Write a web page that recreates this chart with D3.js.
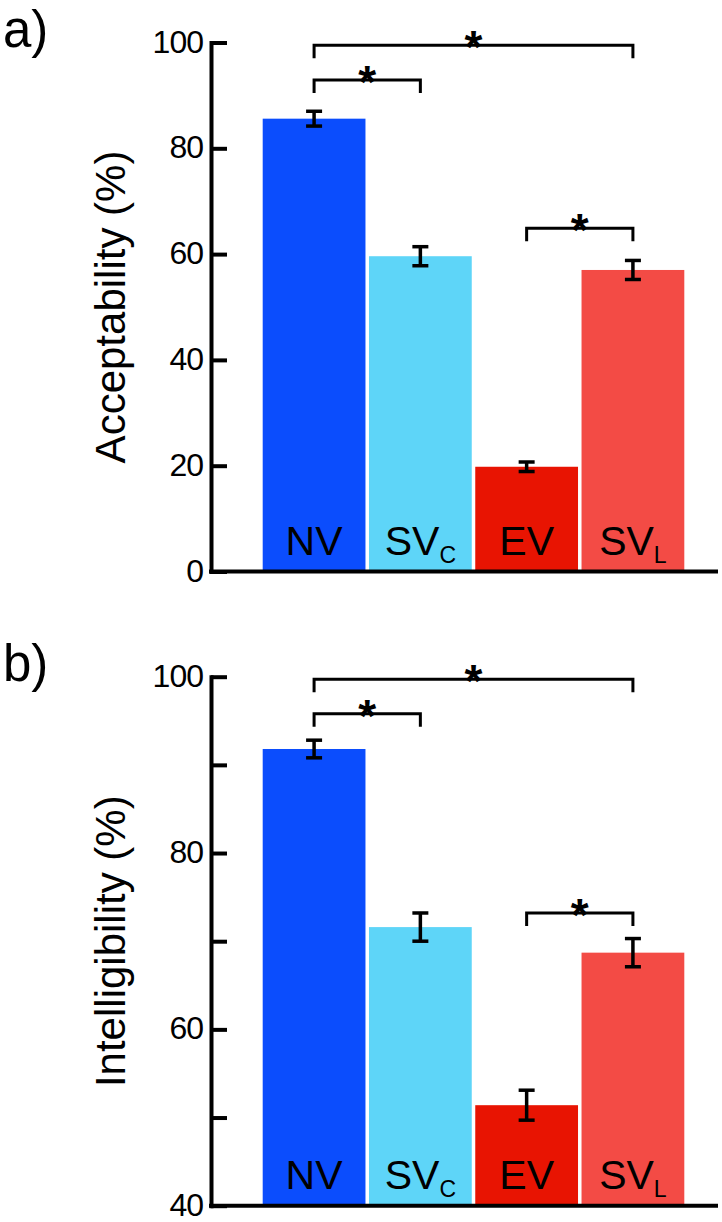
<!DOCTYPE html>
<html>
<head>
<meta charset="utf-8">
<script src="https://cdn.jsdelivr.net/npm/d3@7"></script>
<style>
  body { margin: 0; background: #fff; }
  text { font-family: "Liberation Sans", Arial, Helvetica, sans-serif; fill: #000; }
</style>
</head>
<body>
<div id="chart"></div>
<script>
// categories and labels
const categories = ["NV", "SVC", "EV", "SVL"];
const labelMain = ["NV", "SV", "EV", "SV"];
const labelSub = ["", "C", "", "L"];
const colors = ["#0b4dfd", "#5ed5f8", "#e81402", "#f34b45"];

// panel a) acceptability
const acceptability = [85.6, 59.6, 19.8, 57.0];
const acceptabilityErr = [1.4, 1.8, 0.9, 1.8];
const acceptTicks = [0, 20, 40, 60, 80, 100];
const acceptSig = [[0, 3, 99.5], [0, 1, 92.9], [2, 3, 64.9]];

// panel b) intelligibility
const intelligibility = [91.8, 71.6, 51.4, 68.7];
const intelligibilityErr = [1.0, 1.6, 1.7, 1.6];
const intellTicks = [40, 50, 60, 70, 80, 90, 100];
const intellSig = [[0, 3, 99.7], [0, 1, 95.8], [2, 3, 73.2]];

const W = 722, H = 1222;
const axisX = 211, axisEnd = 718;

const svg = d3.select('#chart')
  .append('svg')
  .attr('width', W)
  .attr('height', H);

// shared x scale
const x = d3.scaleBand()
  .domain(categories)
  .range([262.7, 684.3])
  .paddingInner(0.033)
  .paddingOuter(0);

const drawPanel = (opts) => {
  const {letter, letterY, title, values, errs, y, ticks, labelled, sig} = opts;
  const g = svg.append('g');
  const y0 = y.range()[0];

  // bars
  g.selectAll('rect.bar')
    .data(values)
    .enter().append('rect')
    .attr('class', 'bar')
    .attr('x', (d, i) => x(categories[i]))
    .attr('width', x.bandwidth())
    .attr('y', d => y(d))
    .attr('height', d => y0 - y(d))
    .attr('fill', (d, i) => colors[i]);

  // labels in bars
  const lab = g.selectAll('text.cat')
    .data(categories)
    .enter().append('text')
    .attr('class', 'cat')
    .attr('x', d => x(d) + x.bandwidth() / 2)
    .attr('y', y0 - 17)
    .attr('text-anchor', 'middle')
    .style('font-size', '41px');
  lab.append('tspan').text((d, i) => labelMain[i]);
  lab.append('tspan')
    .attr('dy', 8)
    .style('font-size', '23px')
    .text((d, i) => labelSub[i]);

  // error bars
  const eb = g.selectAll('g.err')
    .data(values)
    .enter().append('g')
    .attr('class', 'err')
    .attr('transform', (d, i) => `translate(${x(categories[i]) + x.bandwidth() / 2},0)`)
    .attr('stroke', '#000')
    .attr('stroke-width', 3.5);
  eb.append('line')
    .attr('y1', (d, i) => y(d + errs[i]))
    .attr('y2', (d, i) => y(d - errs[i]));
  eb.append('line')
    .attr('x1', -8).attr('x2', 8)
    .attr('y1', (d, i) => y(d + errs[i]))
    .attr('y2', (d, i) => y(d + errs[i]));
  eb.append('line')
    .attr('x1', -8).attr('x2', 8)
    .attr('y1', (d, i) => y(d - errs[i]))
    .attr('y2', (d, i) => y(d - errs[i]));

  // significance brackets
  const cx = i => x(categories[i]) + x.bandwidth() / 2;
  g.selectAll('path.sig')
    .data(sig)
    .enter().append('path')
    .attr('class', 'sig')
    .attr('fill', 'none')
    .attr('stroke', '#000')
    .attr('stroke-width', 3)
    .attr('d', d => `M${cx(d[0])},${y(d[2]) + 13}V${y(d[2])}H${cx(d[1])}V${y(d[2]) + 13}`);
  g.selectAll('text.star')
    .data(sig)
    .enter().append('text')
    .attr('class', 'star')
    .attr('x', d => (cx(d[0]) + cx(d[1])) / 2)
    .attr('y', d => y(d[2]) + 18)
    .attr('text-anchor', 'middle')
    .style('font-size', '46px')
    .style('font-weight', 'bold')
    .text('*');

  // y axis, ticks pointing inward
  const ax = g.append('g')
    .attr('transform', `translate(${axisX},0)`)
    .call(d3.axisLeft(y)
      .tickValues(ticks)
      .tickSize(-16)
      .tickSizeOuter(0)
      .tickPadding(8)
      .tickFormat(d => labelled(d) ? d : ''));
  ax.select('.domain').attr('stroke-width', 4).attr('stroke-linecap', 'square');
  ax.selectAll('.tick line').attr('stroke-width', 4);
  ax.selectAll('.tick text')
    .style('font-size', '32px')
    .style('letter-spacing', '-1px')
    .attr('dy', '0.3em');

  // x axis line
  g.append('line')
    .attr('x1', axisX - 2).attr('x2', axisEnd)
    .attr('y1', y0).attr('y2', y0)
    .attr('stroke', '#000')
    .attr('stroke-width', 4);

  // y title
  const [r0, r1] = y.range();
  g.append('text')
    .attr('transform', `translate(125,${(r0 + r1) / 2}) rotate(-90)`)
    .attr('text-anchor', 'middle')
    .style('font-size', '42px')
    .text(title);

  // panel letter
  g.append('text')
    .attr('x', 3)
    .attr('y', letterY)
    .style('font-size', '51px')
    .text(letter);
};

drawPanel({
  letter: 'a)', letterY: 47,
  title: 'Acceptability (%)',
  values: acceptability, errs: acceptabilityErr,
  y: d3.scaleLinear().domain([0, 100]).range([571.5, 42.5]),
  ticks: acceptTicks, labelled: () => true,
  sig: acceptSig
});

drawPanel({
  letter: 'b)', letterY: 681,
  title: 'Intelligibility (%)',
  values: intelligibility, errs: intelligibilityErr,
  y: d3.scaleLinear().domain([40, 100]).range([1205.7, 676.7]),
  ticks: intellTicks, labelled: d => d % 20 === 0,
  sig: intellSig
});
</script>
</body>
</html>
